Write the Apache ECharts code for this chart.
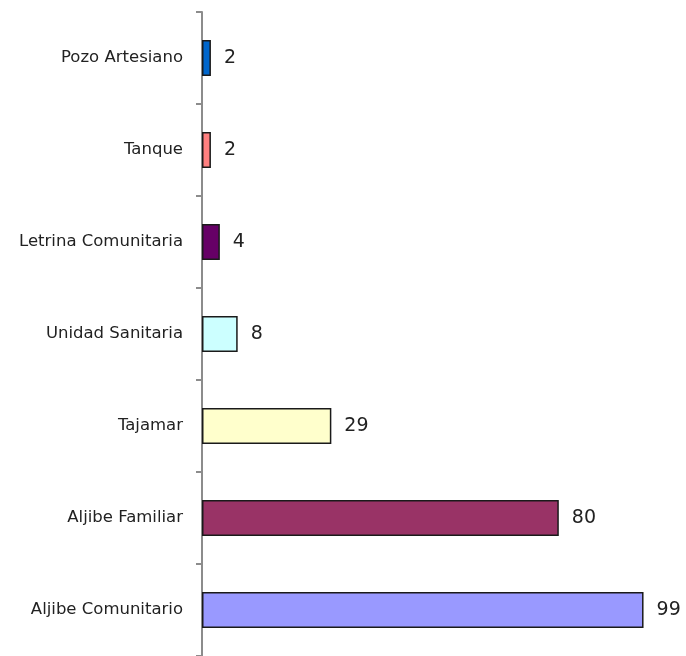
<!DOCTYPE html>
<html>
<head>
<meta charset="utf-8">
<script src="https://cdn.jsdelivr.net/npm/echarts@6/dist/echarts.min.js"></script>
<style>
  html, body { margin: 0; padding: 0; background: #fff; }
  #chart { width: 686px; height: 656px; }
</style>
</head>
<body>
<div id="chart"></div>
<script>
// data, top to bottom
const categories = ['Pozo Artesiano', 'Tanque', 'Letrina Comunitaria', 'Unidad Sanitaria', 'Tajamar', 'Aljibe Familiar', 'Aljibe Comunitario']
const values = [2, 2, 4, 8, 29, 80, 99]
const barColors = ['#0066cc', '#ff8080', '#660066', '#ccffff', '#ffffcc', '#993366', '#9999ff']

const chart = echarts.init(document.getElementById('chart'), null, { renderer: 'canvas' })

chart.setOption({
  animation: false,
  grid: { left: 202, right: 38, top: 12, bottom: 0, containLabel: false },
  xAxis: {
    type: 'value',
    min: 0,
    max: 100,
    show: false
  },
  yAxis: {
    type: 'category',
    inverse: true,
    data: categories,
    axisLine: { show: true, lineStyle: { color: '#8c8c8c', width: 2 } },
    axisTick: { show: true, length: 6, lineStyle: { color: '#8c8c8c', width: 2 } },
    axisLabel: {
      margin: 19,
      color: '#222',
      fontFamily: 'DejaVu Sans',
      fontSize: 16.5
    },
    splitLine: { show: false }
  },
  series: [
    {
      type: 'bar',
      barWidth: 36,
      data: values.map((v, i) => ({
        value: v,
        itemStyle: { color: barColors[i] }
      })),
      itemStyle: { borderColor: '#1a1a1a', borderWidth: 1.5 },
      label: {
        show: true,
        position: 'right',
        distance: 13,
        color: '#222',
        fontFamily: 'DejaVu Sans',
        fontSize: 19
      }
    }
  ]
})
</script>
</body>
</html>
